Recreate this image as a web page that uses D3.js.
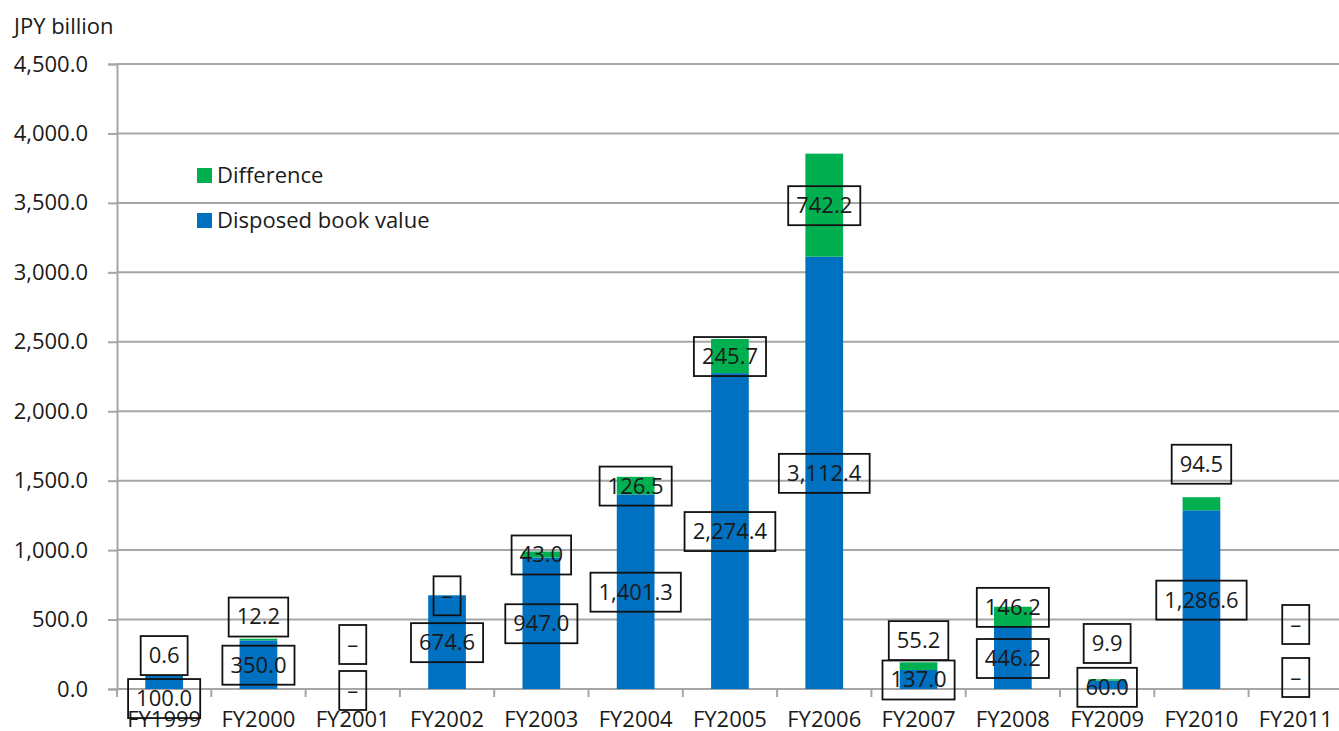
<!DOCTYPE html>
<html>
<head>
<meta charset="utf-8">
<script src="https://cdn.jsdelivr.net/npm/d3@7"></script>
<style>
  body { margin: 0; background: #fff; }
  text { font-family: "Open Sans", sans-serif; fill: #1a1a1a; }
</style>
</head>
<body>
<div id="chart"></div>
<script>
// chart data
var years = ["FY1999","FY2000","FY2001","FY2002","FY2003","FY2004","FY2005","FY2006","FY2007","FY2008","FY2009","FY2010","FY2011"];
var disposed = [100.0, 350.0, 0, 674.6, 947.0, 1401.3, 2274.4, 3112.4, 137.0, 446.2, 60.0, 1286.6, 0];
var difference = [0.6, 12.2, 0, 0, 43.0, 126.5, 245.7, 742.2, 55.2, 146.2, 9.9, 94.5, 0];
var yTicks = [0, 500, 1000, 1500, 2000, 2500, 3000, 3500, 4000, 4500];

// manual nudges of the data labels (pixels), like the hand placed labels of the original
var disposedNudge = [16, 0, 1, 0, 0, 0, 0, 0, 0, 0, 2, 0, -12];
var diffNudge = [-20, -23, -45, 0, 0, 0, 0, 0, -26, -10, -37, -40, -65];

var W = 1339, H = 731;
var margin = {top: 64, left: 117, bottom: 42};
var plotH = H - margin.top - margin.bottom;   // 625
var band = 94.3;
var fontSize = "22px";

var svg = d3.select("#chart").append("svg")
  .attr("width", W)
  .attr("height", H);

var x = d3.scaleBand()
  .domain(years)
  .range([margin.left, margin.left + band * years.length])
  .paddingInner(0.6)
  .paddingOuter(0.3);

var y = d3.scaleLinear()
  .domain([0, 4500])
  .range([margin.top + plotH, margin.top]);

var grey = "#a6a6a6";

// gridlines
svg.append("g")
  .selectAll("line")
  .data(yTicks)
  .enter().append("line")
  .attr("x1", margin.left)
  .attr("x2", W)
  .attr("y1", function(d) { return y(d); })
  .attr("y2", function(d) { return y(d); })
  .attr("stroke", grey)
  .attr("stroke-width", 2);

// y axis
var yAxis = svg.append("g")
  .attr("transform", "translate(" + margin.left + ",0)")
  .call(d3.axisLeft(y).tickValues(yTicks).tickFormat(d3.format(",.1f")).tickSize(9).tickPadding(20));
yAxis.select(".domain").attr("stroke", grey).attr("stroke-width", 2);
yAxis.selectAll(".tick line").attr("stroke", grey).attr("stroke-width", 2);
yAxis.selectAll("text").style("font-size", fontSize).attr("fill", "#1a1a1a");

// x axis: labels centred in the bands, ticks on the band edges
var xAxis = svg.append("g")
  .attr("transform", "translate(0," + y(0) + ")")
  .call(d3.axisBottom(x).tickSize(0).tickPadding(22));
xAxis.select(".domain").remove();
xAxis.selectAll("text").style("font-size", fontSize).attr("fill", "#1a1a1a");

var step = x.step();
svg.append("g")
  .selectAll("line")
  .data(years)
  .enter().append("line")
  .attr("x1", function(d) { return x(d) + x.bandwidth() / 2 - step / 2; })
  .attr("x2", function(d) { return x(d) + x.bandwidth() / 2 - step / 2; })
  .attr("y1", y(0))
  .attr("y2", y(0) + 8)
  .attr("stroke", grey)
  .attr("stroke-width", 2);

// bars
var bars = svg.append("g");
bars.selectAll(".blue")
  .data(years)
  .enter().append("rect")
  .attr("class", "blue")
  .attr("fill", "#0070c0")
  .attr("x", function(d) { return x(d); })
  .attr("width", x.bandwidth())
  .attr("y", function(d, i) { return y(disposed[i]); })
  .attr("height", function(d, i) { return y(0) - y(disposed[i]); });

bars.selectAll(".green")
  .data(years)
  .enter().append("rect")
  .attr("class", "green")
  .attr("fill", "#00b050")
  .attr("x", function(d) { return x(d); })
  .attr("width", x.bandwidth())
  .attr("y", function(d, i) { return y(disposed[i] + difference[i]); })
  .attr("height", function(d, i) { return y(disposed[i]) - y(disposed[i] + difference[i]); });

// data labels with boxes
var fmt = function(v) { return v === 0 ? "\u2013" : d3.format(",.1f")(v); };

function addLabel(cx, cy, txt) {
  var g = svg.append("g");
  var rect = g.append("rect");
  var t = g.append("text")
    .attr("x", cx)
    .attr("y", cy)
    .attr("text-anchor", "middle")
    .attr("dy", "0.36em")
    .style("font-size", fontSize)
    .text(txt);
  var bb = t.node().getBBox();
  rect.attr("x", cx - bb.width / 2 - 8)
    .attr("y", cy - 19)
    .attr("width", bb.width + 16)
    .attr("height", 39)
    .attr("fill", "none")
    .attr("stroke", "#111")
    .attr("stroke-width", 1.8);
}

years.forEach(function(d, i) {
  var cx = x(d) + x.bandwidth() / 2;
  addLabel(cx, y(disposed[i] / 2) + disposedNudge[i], fmt(disposed[i]));
  addLabel(cx, y(disposed[i] + difference[i] / 2) + diffNudge[i], fmt(difference[i]));
});

// axis title
svg.append("text")
  .attr("x", 14)
  .attr("y", 34)
  .style("font-size", fontSize)
  .text("JPY billion");

// legend
var legend = [["Difference", "#00b050"], ["Disposed book value", "#0070c0"]];
legend.forEach(function(l, i) {
  svg.append("rect")
    .attr("x", 197)
    .attr("y", 168 + i * 45)
    .attr("width", 15)
    .attr("height", 15)
    .attr("fill", l[1]);
  svg.append("text")
    .attr("x", 217)
    .attr("y", 175 + i * 45)
    .attr("dy", "0.36em")
    .style("font-size", fontSize)
    .text(l[0]);
});
</script>
</body>
</html>
